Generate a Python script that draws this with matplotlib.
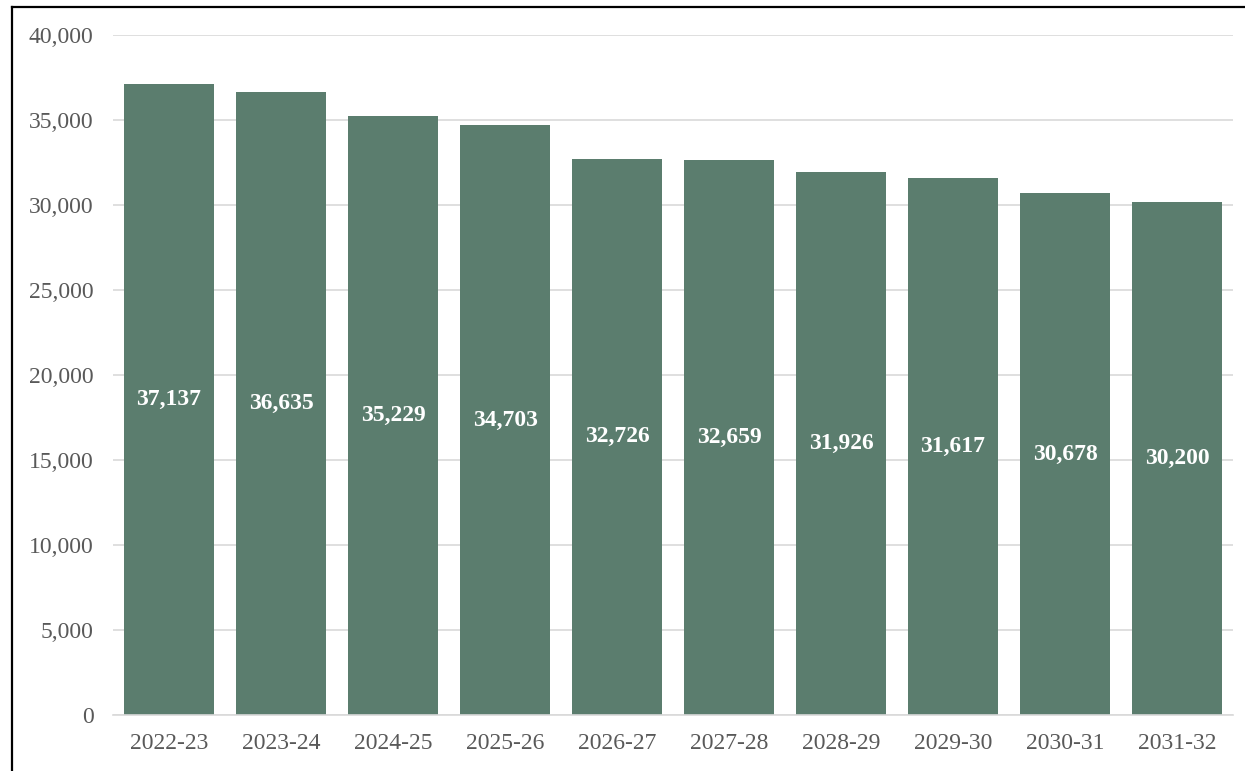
import numpy as np
import matplotlib
matplotlib.use('Agg')
import matplotlib.pyplot as plt
from matplotlib.lines import Line2D

# Data
years = ['2022-23', '2023-24', '2024-25', '2025-26', '2026-27',
         '2027-28', '2028-29', '2029-30', '2030-31', '2031-32']
values = [37137, 36635, 35229, 34703, 32726, 32659, 31926, 31617, 30678, 30200]

bar_color = '#5B7D6E'
tick_color = '#595959'
grid_color = '#D9D9D9'

plt.rcParams['font.family'] = ['Liberation Serif', 'DejaVu Serif']

fig = plt.figure(figsize=(12.45, 7.71), dpi=100)
ax = fig.add_axes([113/1245, 56/771, 1120/1245, 680/771])

x = np.arange(len(years))
bars = ax.bar(x, values, width=0.8, color=bar_color, zorder=2)

for xi, v in zip(x, values):
    ax.text(xi, v/2, '{:,}'.format(v), ha='center', va='center',
            color='white', fontsize=17, fontweight='bold', zorder=3)

ax.set_xlim(-0.5, len(years)-0.5)
ax.set_ylim(0, 40000)
ax.set_yticks(np.arange(0, 40001, 5000))
ax.yaxis.set_major_formatter(matplotlib.ticker.FuncFormatter(lambda v, p: '{:,}'.format(int(v))))
ax.set_xticks(x)
ax.set_xticklabels(years)
ax.grid(axis='y', color=grid_color, linewidth=1.2, zorder=0)
for s in ['top', 'right', 'left']:
    ax.spines[s].set_visible(False)
ax.spines['bottom'].set_color(grid_color)
ax.spines['bottom'].set_linewidth(1.2)
ax.tick_params(axis='both', length=0, labelsize=17, colors=tick_color)
ax.tick_params(axis='y', pad=14)
ax.tick_params(axis='x', pad=13)

# frame lines on left and top
fig.add_artist(Line2D([11.5/1245, 11.5/1245], [0, 1-6.5/771], color='black', linewidth=1.6))
fig.add_artist(Line2D([11.5/1245, 1], [1-6.5/771, 1-6.5/771], color='black', linewidth=1.6))

fig.savefig('out.png', dpi=100)
